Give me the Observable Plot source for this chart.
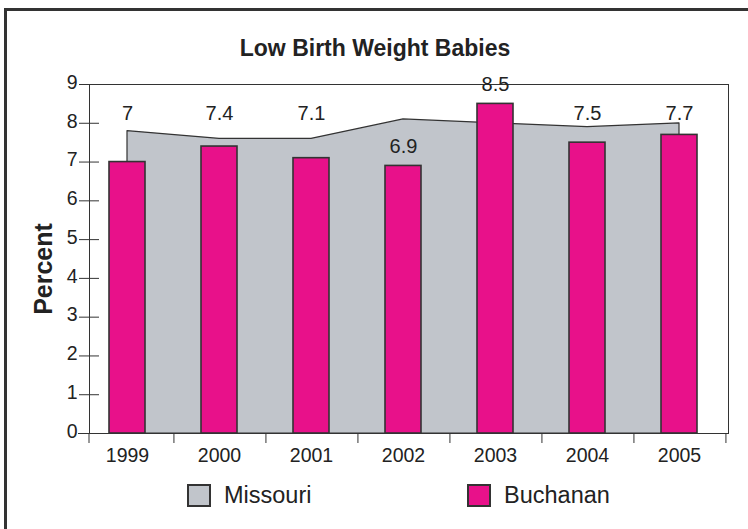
<!DOCTYPE html>
<html><head><meta charset="utf-8">
<script src="https://cdn.jsdelivr.net/npm/d3@7"></script>
<script src="https://cdn.jsdelivr.net/npm/@observablehq/plot@0.6"></script>
<style>
body{margin:0;background:#fff;font-family:"Liberation Sans",Arial,sans-serif;color:#222}
#page{position:relative;width:748px;height:529px;overflow:hidden}
#border{position:absolute;left:4px;top:8px;width:900px;height:700px;border-left:3px solid #333;border-top:3px solid #333}
#title{position:absolute;left:0;width:750px;top:35px;text-align:center;font-weight:bold;font-size:23px;line-height:26px;color:#222}
#chart{position:absolute;left:0;top:70px}
.leg{position:absolute;top:482px;display:flex;align-items:center;font-size:23.5px;color:#222}
.sw{width:20px;height:19px;border:2px solid #333;margin-right:13px}
</style></head><body>
<div id="page"><div id="border"></div><div id="title"></div><div id="chart"></div></div>
<script>
const years = ["1999","2000","2001","2002","2003","2004","2005"];
const missouri = [7.8, 7.6, 7.6, 8.1, 8.0, 7.9, 8.0];
const buchanan = [7.0, 7.4, 7.1, 6.9, 8.5, 7.5, 7.7];
const yTicks = [0,1,2,3,4,5,6,7,8,9];
const seriesNames = ["Missouri", "Buchanan"];
const seriesColors = ["#C1C5CB", "#E8118A"];
const legendLeft = [187, 467];
const titleText = "Low Birth Weight Babies";
const yLabel = "Percent";

document.getElementById("title").textContent = titleText;
const page = document.getElementById("page");
seriesNames.forEach((name, i) => {
  const item = document.createElement("div");
  item.className = "leg";
  item.style.left = legendLeft[i] + "px";
  const sw = document.createElement("div");
  sw.className = "sw";
  sw.style.background = seriesColors[i];
  item.appendChild(sw);
  item.appendChild(document.createTextNode(name));
  page.appendChild(item);
});

const W = 748, H = 400, mL = 89, mR = 20, mT = 14, mB = 37;
const xLeft = 78;
const step = (W - mR - xLeft) / years.length;
const data = years.map((year, i) => ({year, missouri: missouri[i], buchanan: buchanan[i]}));
const labelTop = d3.max(missouri) + 0.15;
const labelRows = data.map(d => {
  const raised = d.buchanan < d.missouri && d.missouri - d.buchanan < 1;
  return {...d, ly: raised ? labelTop : d.buchanan, raised};
});
const ink = "#333";

const plot = Plot.plot({
  width: W, height: H,
  marginLeft: mL, marginRight: mR, marginTop: mT, marginBottom: mB,
  style: {fontFamily: "'Liberation Sans', Arial, sans-serif", fontSize: "19.5px", color: "#222", background: "transparent"},
  x: {type: "band", domain: years, range: [xLeft, W - mR], paddingInner: 0.612, paddingOuter: 0.306, label: null},
  y: {domain: [0, 9], label: null},
  marks: [
    Plot.areaY(data, {x: "year", y: "missouri", fill: seriesColors[0], stroke: ink, strokeWidth: 1.2}),
    Plot.barY(data, {x: "year", y: "buchanan", fill: seriesColors[1], stroke: ink, strokeWidth: 1.6}),
    Plot.frame({stroke: ink, strokeWidth: 1}),
    Plot.ruleY([0], {stroke: ink, strokeWidth: 1, insetLeft: -(mL - xLeft)}),
    Plot.ruleY(yTicks, {stroke: ink, strokeWidth: 1, insetRight: W - mL - mR - 10}),
    Plot.axisY({ticks: yTicks, tickSize: 10, text: null, stroke: ink, label: null}),
    Plot.axisY({ticks: yTicks, tickSize: 0, tickPadding: 12, dy: -2, fontSize: 19.5, label: null, tickFormat: d => String(d)}),
    Plot.axisX({ticks: years, tickSize: 10, text: null, dx: step / 2, stroke: ink, label: null}),
    Plot.axisX({tickSize: 0, tickPadding: 15, fontSize: 19.5, label: null}),
    Plot.text(labelRows, {filter: d => d.raised, x: "year", y: "ly", text: d => String(d.buchanan), fontSize: 20, lineAnchor: "middle", fill: "#222"}),
    Plot.text(labelRows, {filter: d => !d.raised, x: "year", y: "ly", text: d => String(d.buchanan), fontSize: 20, lineAnchor: "middle", dy: -19, fill: "#222"}),
    Plot.text([yLabel], {frameAnchor: "left", text: d => d, rotate: -90, textAnchor: "middle", lineAnchor: "middle", dx: -46, dy: 10, fontWeight: "bold", fontSize: 25, fill: "#222"})
  ]
});
const ys = plot.scale("y");
d3.select(plot).append("line")
  .attr("x1", mL).attr("x2", mL)
  .attr("y1", ys.apply(0)).attr("y2", ys.apply(0) + 10)
  .attr("stroke", ink);
document.getElementById("chart").appendChild(plot);
</script>
</body></html>
